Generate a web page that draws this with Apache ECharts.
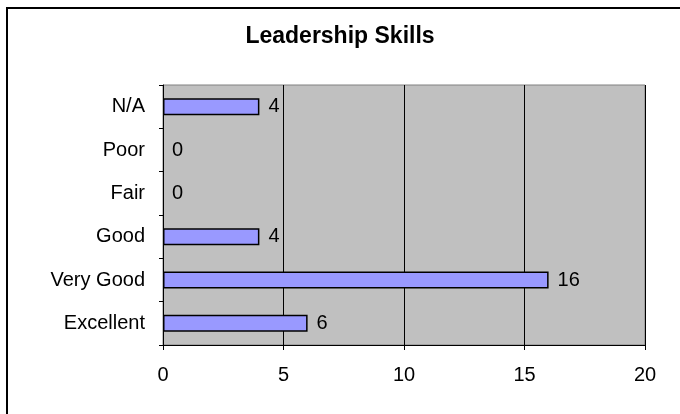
<!DOCTYPE html>
<html>
<head>
<meta charset="utf-8">
<script src="https://cdn.jsdelivr.net/npm/echarts@6/dist/echarts.min.js"></script>
<style>
  html, body { margin: 0; padding: 0; background: #fff; }
  #chart { width: 680px; height: 414px; }
</style>
</head>
<body>
<div id="chart"></div>
<script>
// categories from bottom to top, as in the picture
var categories = ['Excellent', 'Very Good', 'Good', 'Fair', 'Poor', 'N/A'];
var counts = [6, 16, 4, 0, 0, 4];
var xTicks = [0, 5, 10, 15, 20];

var chart = echarts.init(document.getElementById('chart'));
var font = 'Arial, "Liberation Sans", sans-serif';

// zero-length bars should not leave a border stub
var barData = counts.map(function (v) {
  return v === 0 ? { value: v, itemStyle: { borderWidth: 0 } } : v;
});

chart.setOption({
  animation: false,
  backgroundColor: '#fff',
  title: {
    text: 'Leadership Skills',
    left: 'center',
    top: 20,
    textStyle: { fontFamily: font, fontSize: 23, fontWeight: 'bold', color: '#000' }
  },
  graphic: [{
    type: 'rect',
    shape: { x: 7, y: 8, width: 700, height: 430 },
    style: { fill: 'none', stroke: '#000', lineWidth: 2 },
    silent: true
  }],
  grid: {
    left: 163, top: 85, right: 35, bottom: 69,
    show: true,
    backgroundColor: '#c0c0c0',
    borderColor: '#808080',
    borderWidth: 1
  },
  xAxis: {
    type: 'value',
    min: xTicks[0],
    max: xTicks[xTicks.length - 1],
    interval: 5,
    axisLine: { show: true, lineStyle: { color: '#000', width: 1 } },
    axisTick: { show: true, length: 5, lineStyle: { color: '#000' } },
    splitLine: { show: true, lineStyle: { color: '#000', width: 1 } },
    axisLabel: { fontFamily: font, fontSize: 20, color: '#000', margin: 20 }
  },
  yAxis: {
    type: 'category',
    data: categories,
    axisLine: { show: true, lineStyle: { color: '#000', width: 1 } },
    axisTick: { show: true, length: 4, lineStyle: { color: '#000' } },
    axisLabel: { fontFamily: font, fontSize: 20, color: '#000', margin: 18 }
  },
  series: [{
    type: 'bar',
    data: barData,
    barWidth: 17,
    itemStyle: { color: '#9999ff', borderColor: '#000', borderWidth: 1.5 },
    label: {
      show: true,
      position: 'right',
      distance: 9,
      fontFamily: font,
      fontSize: 20,
      color: '#000'
    }
  }]
});
</script>
</body>
</html>
